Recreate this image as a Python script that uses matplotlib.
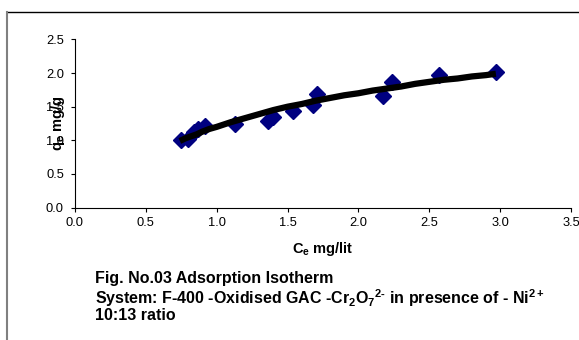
import matplotlib
matplotlib.use("Agg")
import matplotlib.pyplot as plt
from matplotlib.lines import Line2D

plt.rcParams["font.family"] = ["Liberation Sans", "DejaVu Sans"]
plt.rcParams["mathtext.fontset"] = "custom"
plt.rcParams["mathtext.rm"] = "Liberation Sans:bold"
plt.rcParams["mathtext.bf"] = "Liberation Sans:bold"
plt.rcParams["mathtext.default"] = "bf"

# measured points (Ce, qe)
ce = [0.745, 0.80, 0.84, 0.87, 0.92, 1.13, 1.36, 1.40, 1.54, 1.68, 1.71, 2.17, 2.24, 2.57, 2.97]
qe = [1.00, 1.02, 1.12, 1.17, 1.22, 1.25, 1.28, 1.35, 1.44, 1.53, 1.69, 1.66, 1.87, 1.97, 2.02]

# fitted curve
fit_x = [0.74, 0.78, 0.82, 0.86, 0.90, 0.95, 1.00, 1.10, 1.20, 1.30, 1.40, 1.50, 1.60, 1.70, 1.80,
         1.90, 2.00, 2.10, 2.20, 2.30, 2.40, 2.50, 2.60, 2.70, 2.80, 2.90, 2.97]
fit_y = [0.99, 1.03, 1.06, 1.09, 1.13, 1.17, 1.20, 1.27, 1.33, 1.39, 1.45, 1.50, 1.54, 1.59, 1.63,
         1.67, 1.70, 1.74, 1.77, 1.80, 1.84, 1.87, 1.90, 1.92, 1.95, 1.97, 1.99]

xticks = [0.0, 0.5, 1.0, 1.5, 2.0, 2.5, 3.0, 3.5]
yticks = [0.0, 0.5, 1.0, 1.5, 2.0, 2.5]

fig = plt.figure(figsize=(5.79, 3.40), dpi=100)
ax = fig.add_axes([75/579, 1 - 207.5/340, (571 - 75)/579, (207.5 - 39.5)/340])

ax.plot(ce, qe, linestyle="none", marker="D", markersize=8.3, color="#000080", zorder=2)
ax.plot(fit_x, fit_y, color="black", linewidth=4.5, solid_capstyle="butt", zorder=3)

ax.set_xlim(0, 3.5)
ax.set_ylim(0, 2.5)
ax.set_xticks(xticks)
ax.set_yticks(yticks)
ax.set_xticklabels([f"{t:.1f}" for t in xticks])
ax.set_yticklabels([f"{t:.1f}" for t in yticks])
ax.tick_params(direction="out", length=3, width=0.8, labelsize=9.3, pad=4)
ax.tick_params(axis="y", pad=5)
for s in ["top", "right"]:
    ax.spines[s].set_visible(False)
for s in ["left", "bottom"]:
    ax.spines[s].set_linewidth(0.8)

ax.set_xlabel(r"C$_e$ mg/lit", fontsize=10.5, fontweight="bold", labelpad=8)
fig.text(58/579, 1 - 123/340, r"q$_e$ mg/g", rotation=90, fontsize=10.5, fontweight="bold",
         ha="center", va="center")

# caption
cap = dict(fontsize=11.5, fontweight="bold", va="center")
fig.text(95/579, 1 - 279/340, "Fig. No.03 Adsorption Isotherm", **cap)
fig.text(95/579, 1 - 298/340,
         r"System: F-400 -Oxidised GAC -Cr$_2$O$_7$$^{2\text{-}}$ in presence of - Ni$^{2+}$", **cap)
fig.text(95/579, 1 - 316/340, "10:13 ratio", **cap)

# chart area border
fig.add_artist(Line2D([7/579, 1.0], [1 - 12/340, 1 - 12/340], transform=fig.transFigure, color="black", lw=1))
fig.add_artist(Line2D([7/579, 7/579], [0, 1 - 12/340], transform=fig.transFigure, color="#808080", lw=1.5))

fig.savefig("out.png", dpi=100)
